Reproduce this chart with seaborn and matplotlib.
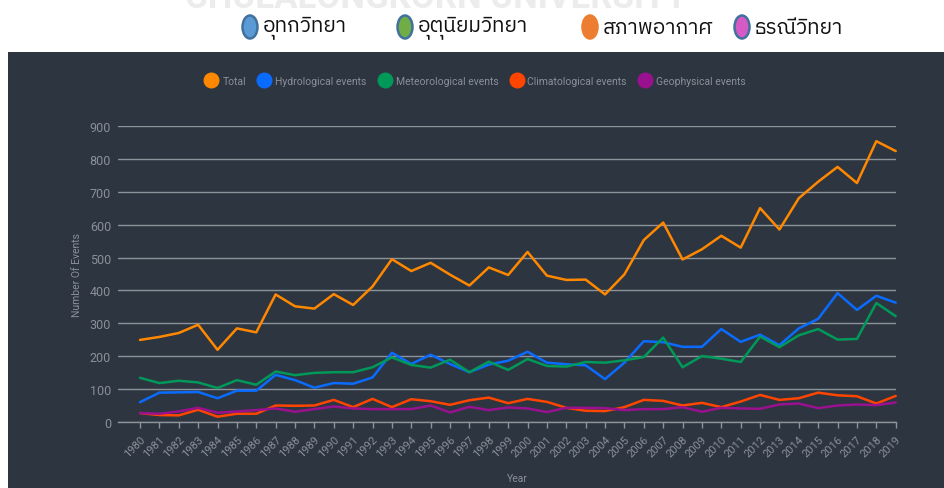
import matplotlib
matplotlib.use("Agg")
import matplotlib.pyplot as plt
from matplotlib import font_manager
from matplotlib.ft2font import FT2Font
from matplotlib.lines import Line2D
from matplotlib.patches import Ellipse, Rectangle
import pandas as pd
import seaborn as sns

# data (EM-DAT style disaster counts)
years = list(range(1980, 2020))
total = [250, 259, 271, 296, 220, 285, 273, 388, 352, 345,
         389, 356, 412, 495, 459, 484, 448, 415, 470, 447,
         517, 445, 432, 433, 388, 449, 553, 606, 494, 525,
         566, 530, 650, 585, 680, 730, 775, 726, 853, 823]
hydrological = [61, 90, 91, 92, 73, 96, 96, 144, 128, 105,
                119, 117, 136, 211, 177, 205, 177, 152, 175, 187,
                214, 181, 176, 173, 131, 181, 246, 243, 229, 229,
                283, 244, 266, 234, 285, 314, 392, 341, 384, 363]
meteorological = [135, 119, 126, 121, 104, 128, 114, 154, 143, 150,
                  152, 152, 167, 197, 174, 166, 190, 152, 184, 159,
                  192, 171, 169, 183, 181, 188, 198, 257, 167, 201,
                  193, 183, 260, 228, 264, 283, 251, 253, 362, 322]
climatological = [28, 22, 21, 38, 17, 26, 26, 51, 50, 51,
                  68, 46, 71, 46, 70, 64, 53, 67, 75, 58,
                  71, 62, 44, 35, 34, 46, 68, 65, 51, 59,
                  46, 63, 83, 68, 73, 90, 82, 79, 57, 80]
geophysical = [28, 26, 33, 44, 29, 33, 37, 42, 32, 40,
               48, 42, 40, 40, 40, 51, 30, 47, 37, 45,
               42, 31, 44, 44, 43, 37, 40, 40, 46, 32,
               44, 42, 41, 54, 57, 43, 51, 54, 52, 60]

series_names = ["Total", "Hydrological events", "Meteorological events",
                "Climatological events", "Geophysical events"]
series_colors = ["#ff8800", "#0a6cff", "#00995a", "#ff4500", "#99118f"]

thai_labels = ["อุทกวิทยา", "อุตุนิยมวิทยา", "สภาพอากาศ", "ธรณีวิทยา"]
thai_colors = ["#5b9bd5", "#70ad47", "#ed7d31", "#d65ac6"]
thai_edges = ["#41719c", "#41719c", "#ed7d31", "#41719c"]

df = pd.DataFrame({"Year": years, "Total": total,
                   "Hydrological events": hydrological,
                   "Meteorological events": meteorological,
                   "Climatological events": climatological,
                   "Geophysical events": geophysical})
long_df = df.melt(id_vars="Year", var_name="Type", value_name="Events")


def find_thai_font():
    # pick any installed font that actually has Thai glyphs
    fallback = None
    for f in font_manager.fontManager.ttflist:
        try:
            if ord("ก") in FT2Font(f.fname).get_charmap():
                if "Thai" in f.name:
                    return f.name
                fallback = fallback or f.name
        except Exception:
            pass
    return fallback or "DejaVu Sans"


BG = "#2d3540"
GRID = "#8d939a"
TXT = "#8a9099"

sns.set_theme(style="dark")
plt.rcParams["font.family"] = ["Roboto", "DejaVu Sans"]

fig = plt.figure(figsize=(9.44, 4.89), dpi=100, facecolor="white")
fig.add_artist(Rectangle((8 / 944, 0), 936 / 944, 436 / 489,
                         transform=fig.transFigure, facecolor=BG,
                         edgecolor="none", zorder=-10))

ax = fig.add_axes([118 / 944, 1 - 423.3 / 489, (895.7 - 118) / 944, 296.6 / 489])
ax.set_facecolor(BG)

sns.lineplot(data=long_df, x="Year", y="Events", hue="Type",
             hue_order=series_names, palette=series_colors,
             linewidth=1.8, legend=False, ax=ax)
for ln in ax.lines:
    ln.set_clip_on(False)

ax.set_xlim(1978.865, 2019)
ax.set_ylim(0, 900)
ax.set_yticks(range(0, 901, 100))
ax.set_xticks(years)
ax.set_xticklabels([str(y) for y in years], rotation=45, ha="right",
                   rotation_mode="anchor", fontsize=8, color=TXT)
ax.tick_params(axis="x", length=4, width=1, color=GRID, pad=4, bottom=True)
ax.tick_params(axis="y", length=0, pad=5, labelsize=9, labelcolor=TXT)
ax.grid(axis="y", color=GRID, linewidth=1.0)
ax.grid(axis="x", visible=False)
ax.set_axisbelow(True)
for side in ["left", "right", "top"]:
    ax.spines[side].set_visible(False)
ax.spines["bottom"].set_color(GRID)
ax.spines["bottom"].set_linewidth(1.0)

ax.set_xlabel("Year", fontsize=7.5, color=TXT)
ax.set_ylabel("Number Of Events", fontsize=7.5, color=TXT)
ax.xaxis.set_label_coords((517 - 118) / 777.7, -51 / 296.6)
ax.yaxis.set_label_coords(-(118 - 82) / 777.7, 0.5)

# legend inside the dark panel
handles = [Line2D([], [], linestyle="none", marker="o", markersize=10.5,
                  markerfacecolor=c, markeredgecolor=c) for c in series_colors]
fig.legend(handles, series_names, loc="center", ncol=5,
           bbox_to_anchor=(476 / 944, 1 - 82 / 489), frameon=False,
           fontsize=7.5, labelcolor=TXT, handletextpad=0.55, columnspacing=1.25,
           handlelength=1.0)

# faint watermark (cut off by the top edge, as in the source) and Thai legend
fig.text(436 / 944, 1 + 1 / 489, "CHULALONGKORN UNIVERSITY", ha="center",
         va="center", fontsize=25, fontweight="bold", color="#ececec",
         family=["Roboto", "DejaVu Sans"])

thai_font = find_thai_font()
circle_x = [250, 405, 590, 742]
for cx, lab, fc, ec in zip(circle_x, thai_labels, thai_colors, thai_edges):
    fig.add_artist(Ellipse((cx / 944, 1 - 28 / 489), 15 / 944, 23 / 489,
                           transform=fig.transFigure, facecolor=fc,
                           edgecolor=ec, linewidth=1.8))
    fig.text((cx + 13) / 944, 1 - 28 / 489, lab, ha="left", va="center",
             fontsize=15, color="#111111", family=[thai_font, "DejaVu Sans"])

fig.savefig("out.png", dpi=100, facecolor="white")
